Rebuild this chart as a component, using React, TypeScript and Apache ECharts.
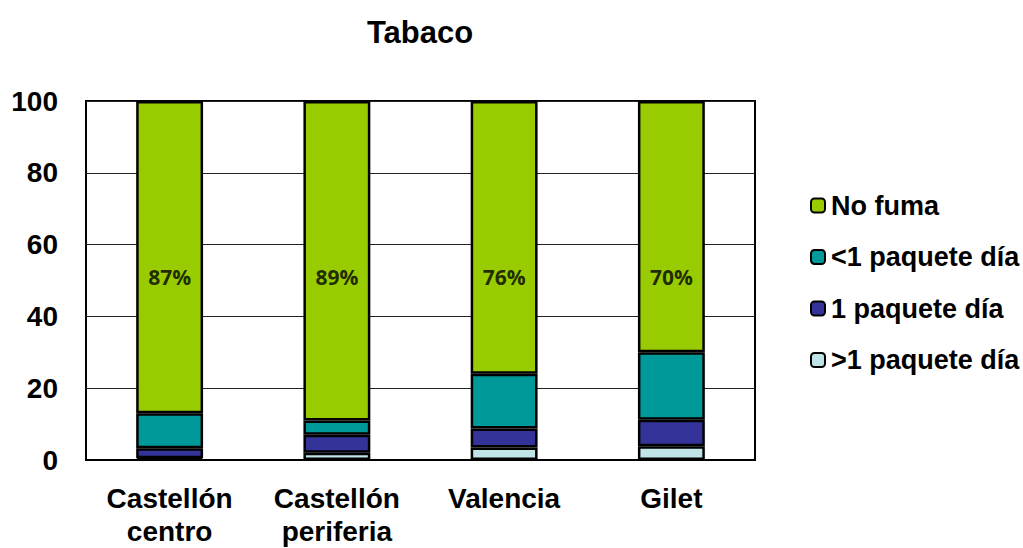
import React, { useEffect, useRef } from "react";
import * as echarts from "echarts";

const categories = ["Castellón\ncentro", "Castellón\nperiferia", "Valencia", "Gilet"];
const masDeUnPaquete = [0.5, 2, 3.5, 3.8];
const unPaquete = [2.8, 5, 5.3, 7.4];
const menosDeUnPaquete = [9.7, 4, 15.2, 18.8];
const noFuma = [87, 89, 76, 70];
const labelLevel = [51, 51, 51, 51];
const yTicks = [0, 20, 40, 60, 80, 100];

export default function App() {
  const ref = useRef<HTMLDivElement>(null);
  useEffect(() => {
    const chart = echarts.init(ref.current!, null, { renderer: "svg" });
    const barStyle = (color: string) => ({ color, borderColor: "#000", borderWidth: 2.5 });
    const font = "Arial";
    chart.setOption({
      animation: false,
      title: {
        text: "Tabaco",
        left: 415,
        top: 12,
        textAlign: "center",
        textStyle: { fontFamily: font, fontSize: 31, fontWeight: "bold", color: "#000" },
      },
      legend: {
        orient: "vertical",
        left: 805,
        top: 187,
        itemWidth: 14,
        itemHeight: 14,
        itemGap: 24.5,
        data: ["No fuma", "<1 paquete día", "1 paquete día", ">1 paquete día"],
        textStyle: { fontFamily: font, fontSize: 27, fontWeight: "bold", color: "#000", padding: [0, 0, 0, 1] },
      },
      grid: {
        left: 86,
        top: 101,
        width: 669,
        height: 365,
        show: true,
        borderColor: "#000",
        borderWidth: 2,
        backgroundColor: "transparent",
      },
      xAxis: {
        type: "category",
        data: categories,
        axisLine: { show: true, lineStyle: { color: "#000", width: 2 } },
        axisTick: { show: false },
        axisLabel: {
          fontFamily: font,
          fontSize: 28,
          fontWeight: "bold",
          color: "#000",
          lineHeight: 33,
          margin: 22,
        },
      },
      yAxis: {
        type: "value",
        min: yTicks[0],
        max: yTicks[yTicks.length - 1],
        interval: 20,
        axisLine: { show: false },
        axisTick: { show: false },
        splitLine: { show: true, lineStyle: { color: "#222", width: 1 } },
        axisLabel: {
          fontFamily: font,
          fontSize: 28,
          fontWeight: "bold",
          color: "#000",
          margin: 28,
        },
      },
      series: [
        {
          name: ">1 paquete día",
          type: "bar",
          stack: "t",
          barWidth: "40%",
          data: masDeUnPaquete,
          itemStyle: barStyle("#BFE3E6"),
        },
        {
          name: "1 paquete día",
          type: "bar",
          stack: "t",
          data: unPaquete,
          itemStyle: barStyle("#333399"),
        },
        {
          name: "<1 paquete día",
          type: "bar",
          stack: "t",
          data: menosDeUnPaquete,
          itemStyle: barStyle("#009999"),
        },
        {
          name: "No fuma",
          type: "bar",
          stack: "t",
          data: noFuma,
          itemStyle: barStyle("#99CC00"),
        },
        {
          type: "scatter",
          symbolSize: 0,
          silent: true,
          data: labelLevel,
          label: {
            show: true,
            position: "inside",
            formatter: (p: any) => noFuma[p.dataIndex] + "%",
            fontFamily: "Open Sans",
            fontSize: 21,
            fontWeight: "bold",
            color: "#000",
          },
          z: 10,
        },
      ],
    });
    return () => chart.dispose();
  }, []);
  return (
    <div
      ref={ref}
      style={{ position: "fixed", left: 0, top: 0, width: 1023, height: 548, background: "#fff" }}
    />
  );
}
